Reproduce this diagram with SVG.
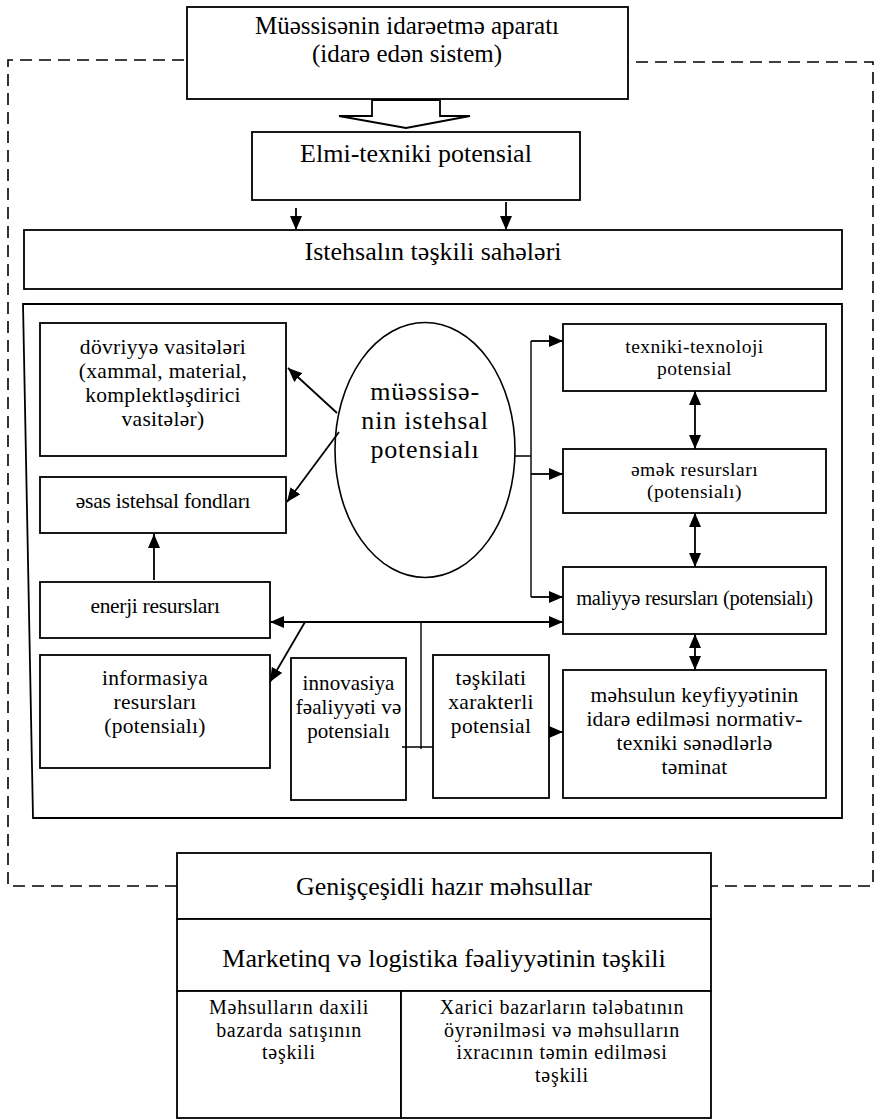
<svg xmlns="http://www.w3.org/2000/svg" width="874" height="1120" viewBox="0 0 874 1120">
<style>
  .box{fill:#fff;stroke:#000;stroke-width:1.8}
  .ln{fill:none;stroke:#000;stroke-width:1.8}
  .thin{fill:none;stroke:#000;stroke-width:1.4}
  .dash{fill:none;stroke:#000;stroke-width:1.6;stroke-dasharray:12 7}
  text{font-family:"Liberation Serif","Times New Roman",serif;fill:#000;text-anchor:middle}
  .h{font-size:26px}
  .h2{font-size:25px}
  .e{font-size:26px;letter-spacing:0.8px}
  .l{font-size:21.5px;letter-spacing:0.3px}
  .m{font-size:21px;letter-spacing:0.1px}
  .r{font-size:19.5px;letter-spacing:0.5px}
  .k{font-size:21.5px;letter-spacing:0.2px}
  .b{font-size:20px;letter-spacing:0.7px}
</style>
<defs>
  <marker id="ah" viewBox="0 0 14 12" refX="14" refY="6" markerWidth="14" markerHeight="12" markerUnits="userSpaceOnUse" orient="auto-start-reverse">
    <path d="M0,0 L14,6 L0,12 z" fill="#000"/>
  </marker>
</defs>
<rect width="874" height="1120" fill="#fff"/>

<g id="feedback">
  <path class="dash" d="M203,60 H8 V886 H188"/>
  <path class="dash" d="M617,62 H873 V886 H711"/>
</g>

<g id="management">
  <rect class="box" x="187" y="7" width="441" height="92"/>
  <text class="h2" x="407" y="34">Müəssisənin idarəetmə aparatı</text>
  <text class="h2" x="407" y="62">(idarə edən sistem)</text>
</g>

<g id="hollow-arrow">
  <polygon points="372,100 372,116 339,116 406,128 470,116 440,116 440,100" fill="#fff" stroke="#000" stroke-width="1.8"/>
</g>

<g id="elmi">
  <rect class="box" x="252" y="132" width="328" height="68"/>
  <text class="h" x="416" y="162">Elmi-texniki potensial</text>
</g>

<g id="istehsal-sahe">
  <rect class="box" x="24" y="230" width="818" height="59"/>
  <text class="h" x="433" y="260">Istehsalın təşkili sahələri</text>
</g>

<g id="frame">
  <path class="ln" d="M23,304 L842,304 L842,818 L33,818 Z"/>
</g>

<g id="dovriyye">
  <rect class="box" x="40" y="323" width="246" height="133"/>
  <text class="l" x="163" y="354">dövriyyə vasitələri</text>
  <text class="l" x="163" y="378">(xammal, material,</text>
  <text class="l" x="163" y="402">komplektləşdirici</text>
  <text class="l" x="163" y="426">vasitələr)</text>
</g>

<g id="esas">
  <rect class="box" x="40" y="477" width="246" height="56"/>
  <text class="l" x="163" y="508" style="letter-spacing:-0.2px">əsas istehsal fondları</text>
</g>

<g id="enerji">
  <rect class="box" x="40" y="582" width="230" height="56"/>
  <text class="l" x="155" y="613" style="letter-spacing:-0.3px">enerji resursları</text>
</g>

<g id="informasiya">
  <rect class="box" x="40" y="655" width="230" height="113"/>
  <text class="l" x="155" y="685">informasiya</text>
  <text class="l" x="155" y="709">resursları</text>
  <text class="l" x="155" y="733">(potensialı)</text>
</g>

<g id="innovasiya">
  <rect class="box" x="291" y="658" width="115" height="142"/>
  <text class="m" x="348.5" y="690">innovasiya</text>
  <text class="m" x="348.5" y="714">fəaliyyəti və</text>
  <text class="m" x="348.5" y="738">potensialı</text>
</g>

<g id="teskilati">
  <rect class="box" x="433" y="655" width="116" height="143"/>
  <text class="l" x="491" y="685">təşkilati</text>
  <text class="l" x="491" y="709">xarakterli</text>
  <text class="l" x="491" y="733">potensial</text>
</g>

<g id="potential-ellipse">
  <ellipse cx="425" cy="450" rx="90" ry="127.5" fill="#fff" stroke="#000" stroke-width="1.6"/>
  <text class="e" x="425" y="400">müəssisə-</text>
  <text class="e" x="425" y="429">nin istehsal</text>
  <text class="e" x="425" y="458">potensialı</text>
</g>

<g id="texniki">
  <rect class="box" x="563" y="324" width="263" height="67"/>
  <text class="r" x="694.5" y="353">texniki-texnoloji</text>
  <text class="r" x="694.5" y="375">potensial</text>
</g>

<g id="emek">
  <rect class="box" x="563" y="449" width="263" height="64"/>
  <text class="r" x="694.5" y="476">əmək resursları</text>
  <text class="r" x="694.5" y="498">(potensialı)</text>
</g>

<g id="maliyye">
  <rect class="box" x="563" y="567" width="263" height="67"/>
  <text class="r" x="694.5" y="605" style="font-size:20.5px;letter-spacing:-0.3px">maliyyə resursları (potensialı)</text>
</g>

<g id="mehsul-keyfiyyet">
  <rect class="box" x="563" y="670" width="263" height="128"/>
  <text class="k" x="694.5" y="702">məhsulun keyfiyyətinin</text>
  <text class="k" x="694.5" y="726">idarə edilməsi normativ-</text>
  <text class="k" x="694.5" y="750">texniki sənədlərlə</text>
  <text class="k" x="694.5" y="774">təminat</text>
</g>

<g id="hazir">
  <rect class="box" x="177" y="853" width="534" height="66"/>
  <text class="h" x="444" y="895">Genişçeşidli hazır məhsullar</text>
</g>

<g id="marketinq">
  <rect class="box" x="177" y="919" width="534" height="72"/>
  <text class="h" x="444" y="967">Marketinq və logistika fəaliyyətinin təşkili</text>
</g>

<g id="daxili">
  <rect class="box" x="177" y="991" width="224" height="127"/>
  <text class="b" x="289" y="1014">Məhsulların daxili</text>
  <text class="b" x="289" y="1036.5">bazarda satışının</text>
  <text class="b" x="289" y="1059">təşkili</text>
</g>

<g id="xarici">
  <rect class="box" x="401" y="991" width="310" height="127"/>
  <text class="b" x="562" y="1014">Xarici bazarların tələbatının</text>
  <text class="b" x="562" y="1036.5">öyrənilməsi və məhsulların</text>
  <text class="b" x="562" y="1059">ixracının təmin edilməsi</text>
  <text class="b" x="562" y="1081.5">təşkili</text>
</g>

<g id="connectors">
  <path class="ln" d="M296,208 V230" marker-end="url(#ah)"/>
  <path class="ln" d="M506,202 V230" marker-end="url(#ah)"/>
  <path class="ln" d="M337,413 L288,368" marker-end="url(#ah)"/>
  <path class="ln" d="M339,432 L287,502" marker-end="url(#ah)"/>
  <path class="ln" d="M154,580 V534" marker-end="url(#ah)"/>
  <path class="thin" d="M515,456 H531 M531,341 V597"/>
  <path class="ln" d="M531,341 H563" marker-end="url(#ah)"/>
  <path class="ln" d="M531,474 H563" marker-end="url(#ah)"/>
  <path class="ln" d="M531,597 H563" marker-end="url(#ah)"/>
  <path class="ln" d="M695,391 V449" marker-start="url(#ah)" marker-end="url(#ah)"/>
  <path class="ln" d="M695,513 V567" marker-start="url(#ah)" marker-end="url(#ah)"/>
  <path class="ln" d="M695,634 V670" marker-start="url(#ah)" marker-end="url(#ah)"/>
  <path class="ln" d="M270,622 H563" marker-start="url(#ah)" marker-end="url(#ah)"/>
  <path class="ln" d="M305,622 L270,682" marker-end="url(#ah)"/>
  <path class="thin" d="M421,623 V749 M402,747 H433"/>
  <path class="ln" d="M549,732 H563" marker-end="url(#ah)"/>
</g>
</svg>
